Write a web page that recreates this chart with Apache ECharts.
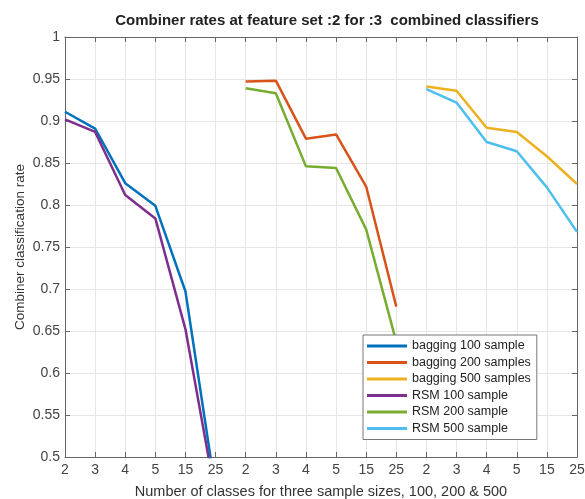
<!DOCTYPE html>
<html>
<head>
<meta charset="utf-8">
<script src="https://cdn.jsdelivr.net/npm/echarts@6/dist/echarts.min.js"></script>
<style>
  html, body { margin: 0; padding: 0; background: #fff; }
  #chart { width: 585px; height: 499px; }
</style>
</head>
<body>
<div id="chart"></div>
<script>
// x categories: three sample sizes, each with six class counts
const classLabels = ['2', '3', '4', '5', '15', '25', '2', '3', '4', '5', '15', '25', '2', '3', '4', '5', '15', '25'];

const bagging100 = [0.911, 0.891, 0.826, 0.799, 0.697, 0.46, null, null, null, null, null, null, null, null, null, null, null, null];
const bagging200 = [null, null, null, null, null, null, 0.947, 0.948, 0.879, 0.884, 0.822, 0.679, null, null, null, null, null, null];
const bagging500 = [null, null, null, null, null, null, null, null, null, null, null, null, 0.941, 0.936, 0.892, 0.887, 0.858, 0.825];
const rsm100 = [0.902, 0.887, 0.812, 0.784, 0.652, 0.453, null, null, null, null, null, null, null, null, null, null, null, null];
const rsm200 = [null, null, null, null, null, null, 0.939, 0.933, 0.846, 0.844, 0.771, 0.637, null, null, null, null, null, null];
const rsm500 = [null, null, null, null, null, null, null, null, null, null, null, null, 0.938, 0.922, 0.875, 0.864, 0.821, 0.768];

const seriesNames = ['bagging 100 sample', 'bagging 200 samples', 'bagging 500 samples', 'RSM 100 sample', 'RSM 200 sample', 'RSM 500 sample'];
const seriesData = [bagging100, bagging200, bagging500, rsm100, rsm200, rsm500];
const colors = ['#0072BD', '#D95319', '#EDB120', '#7E2F8E', '#77AC30', '#4DBEEE'];

const font = 'Liberation Sans, Arial, sans-serif';
const chart = echarts.init(document.getElementById('chart'));

const gridLine = { show: true, lineStyle: { color: '#e6e6e6', width: 1 } };
const boxLine = { show: true, lineStyle: { color: '#666', width: 1 } };
const tick = { show: true, inside: true, length: 5, lineStyle: { color: '#666' } };

chart.setOption({
  animation: false,
  color: colors,
  title: {
    text: 'Combiner rates at feature set :2 for :3  combined classifiers',
    left: 322,
    textAlign: 'center',
    top: 8,
    textStyle: { fontFamily: font, fontSize: 15, fontWeight: 'bold', color: '#222' }
  },
  grid: { left: 65, right: 8, top: 37, bottom: 42, containLabel: false, outerBoundsMode: 'none' },
  legend: {
    orient: 'vertical',
    left: 363,
    top: 335,
    backgroundColor: '#fff',
    borderColor: '#777',
    borderWidth: 1,
    padding: [4, 6, 4, 4],
    itemGap: 2.5,
    itemWidth: 40,
    itemHeight: 3,
    icon: 'rect',
    textStyle: { fontFamily: font, fontSize: 12.5, color: '#222', lineHeight: 14 },
    data: seriesNames
  },
  xAxis: [
    {
      type: 'category',
      data: classLabels,
      boundaryGap: false,
      name: 'Number of classes for three sample sizes, 100, 200 & 500',
      nameLocation: 'middle',
      nameGap: 27,
      nameTextStyle: { fontFamily: font, fontSize: 14.5, color: '#333' },
      axisLine: boxLine,
      axisTick: tick,
      axisLabel: { fontFamily: font, fontSize: 14, color: '#444', margin: 6, interval: 0 },
      splitLine: Object.assign({ interval: 0 }, gridLine)
    },
    {
      type: 'category',
      data: classLabels,
      boundaryGap: false,
      position: 'top',
      axisLine: boxLine,
      axisTick: Object.assign({ interval: 0 }, tick),
      axisLabel: { show: false },
      splitLine: { show: false }
    }
  ],
  yAxis: [
    {
      type: 'value',
      min: 0.5,
      max: 1,
      interval: 0.05,
      name: 'Combiner classification rate',
      nameLocation: 'middle',
      nameGap: 38,
      nameMoveOverlap: false,
      nameTextStyle: { fontFamily: font, fontSize: 13.5, color: '#333' },
      axisLine: boxLine,
      axisTick: tick,
      axisLabel: {
        fontFamily: font, fontSize: 14, color: '#444', margin: 5,
        formatter: v => String(+v.toFixed(2))
      },
      splitLine: gridLine
    },
    {
      type: 'value',
      min: 0.5,
      max: 1,
      interval: 0.05,
      position: 'right',
      axisLine: boxLine,
      axisTick: tick,
      axisLabel: { show: false },
      splitLine: { show: false }
    }
  ],
  series: seriesNames.map((name, i) => ({
    name,
    type: 'line',
    data: seriesData[i],
    symbol: 'none',
    connectNulls: false,
    clip: true,
    lineStyle: { width: 2.5, color: colors[i] },
    itemStyle: { color: colors[i] }
  }))
});
</script>
</body>
</html>
